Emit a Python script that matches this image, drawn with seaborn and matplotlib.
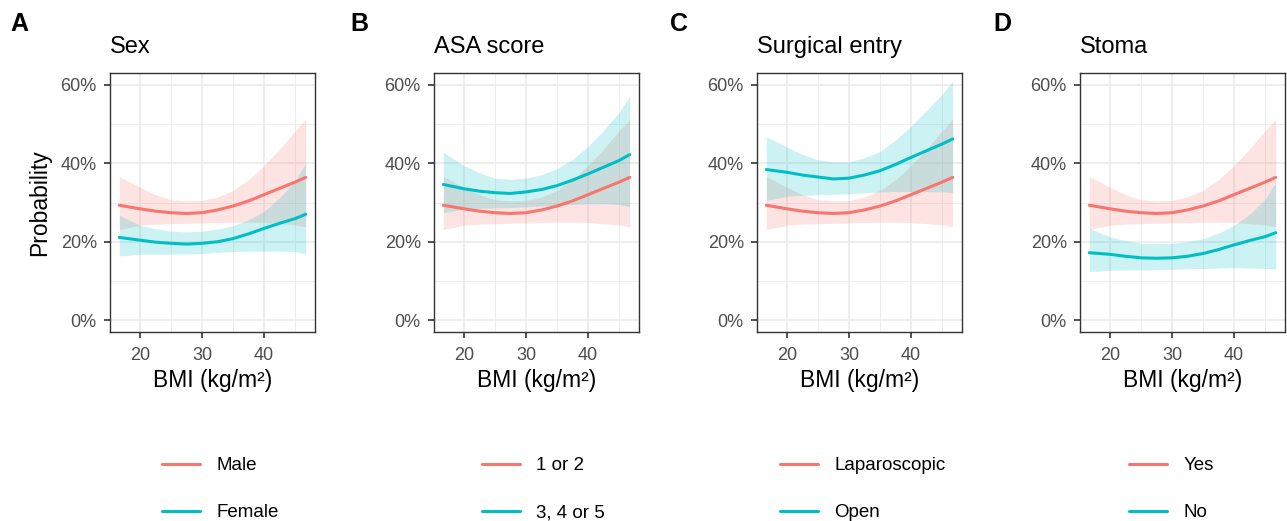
import numpy as np
import pandas as pd
import seaborn as sns
import matplotlib
matplotlib.use("Agg")
from matplotlib import pyplot as plt
from matplotlib.lines import Line2D
from matplotlib.ticker import MultipleLocator, FuncFormatter

bmi = [16.7, 20, 22.5, 25, 27.5, 30, 32.5, 35, 37.5, 40, 42.5, 45, 46.7]

# reference level (same red curve in every panel), probability in %
ref_fit = [29.3, 28.4, 27.8, 27.4, 27.2, 27.4, 28.1, 29.1, 30.4, 32.0, 33.6, 35.2, 36.4]
ref_upper = [36.6, 33.9, 32.0, 30.7, 30.4, 30.5, 31.4, 33.1, 35.8, 39.4, 43.6, 48.3, 51.2]
ref_lower = [23.1, 24.2, 24.5, 24.6, 24.7, 24.8, 24.9, 25.0, 25.0, 24.9, 24.6, 24.3, 23.8]

# comparison level per panel
sex_fit = [21.1, 20.4, 19.9, 19.6, 19.4, 19.6, 20.0, 20.8, 22.0, 23.4, 24.7, 25.9, 27.0]
sex_upper = [26.8, 24.2, 23.3, 22.7, 22.5, 22.7, 23.2, 24.1, 25.6, 27.8, 31.2, 35.5, 40.1]
sex_lower = [16.4, 16.8, 16.8, 16.8, 16.9, 17.0, 17.3, 17.5, 17.6, 17.6, 17.6, 17.5, 17.0]

asa_fit = [34.6, 33.5, 32.9, 32.5, 32.3, 32.7, 33.3, 34.3, 35.7, 37.3, 39.0, 40.7, 42.2]
asa_upper = [42.8, 39.4, 37.6, 36.2, 35.9, 36.2, 37.1, 38.6, 41.0, 44.3, 48.4, 53.0, 57.0]
asa_lower = [27.4, 28.3, 28.5, 28.6, 28.7, 28.9, 29.1, 29.3, 29.5, 29.7, 29.7, 29.5, 28.9]

entry_fit = [38.4, 37.7, 37.0, 36.5, 36.0, 36.2, 37.0, 38.1, 39.7, 41.5, 43.2, 44.9, 46.2]
entry_upper = [46.8, 44.1, 42.3, 40.9, 40.4, 40.4, 41.4, 43.0, 45.9, 49.5, 53.4, 57.6, 60.9]
entry_lower = [30.5, 31.6, 31.8, 32.0, 32.1, 32.2, 32.5, 32.7, 32.8, 32.8, 32.8, 32.7, 32.5]

stoma_fit = [17.2, 16.8, 16.3, 15.9, 15.8, 15.9, 16.3, 17.0, 18.0, 19.2, 20.3, 21.3, 22.3]
stoma_upper = [23.4, 21.3, 20.3, 19.6, 19.5, 19.6, 20.0, 20.8, 22.2, 24.2, 27.0, 30.8, 35.2]
stoma_lower = [12.4, 12.7, 12.8, 12.8, 12.9, 13.0, 13.1, 13.2, 13.3, 13.4, 13.3, 13.2, 13.1]

panel_letters = ["A", "B", "C", "D"]
panel_titles = ["Sex", "ASA score", "Surgical entry", "Stoma"]
ref_labels = ["Male", "1 or 2", "Laparoscopic", "Yes"]
other_labels = ["Female", "3, 4 or 5", "Open", "No"]
others = [(sex_fit, sex_lower, sex_upper), (asa_fit, asa_lower, asa_upper),
          (entry_fit, entry_lower, entry_upper), (stoma_fit, stoma_lower, stoma_upper)]

RED = "#F8766D"
CYAN = "#00BFC4"

sns.set_theme(style="white")
plt.rcParams["font.family"] = ["Liberation Sans", "DejaVu Sans"]
plt.rcParams["text.color"] = "black"
plt.rcParams["axes.labelcolor"] = "black"

W, H = 1287, 521
fig = plt.figure(figsize=(W / 100, H / 100), dpi=100)

ax_left = [110, 434, 757, 1080]
ax_w, ax_top, ax_bot = 205, 73, 332
letter_x = [10, 350, 670, 993]
legend_x = [162, 482, 780, 1129]

rows = []
for i, (fit, lo, hi) in enumerate(others):
    for j, b in enumerate(bmi):
        rows.append([panel_titles[i], ref_labels[i], b, ref_fit[j] / 100, ref_lower[j] / 100, ref_upper[j] / 100])
        rows.append([panel_titles[i], other_labels[i], b, fit[j] / 100, lo[j] / 100, hi[j] / 100])
df = pd.DataFrame(rows, columns=["panel", "group", "bmi", "prob", "lower", "upper"])

for i in range(4):
    ax = fig.add_axes([ax_left[i] / W, 1 - ax_bot / H, ax_w / W, (ax_bot - ax_top) / H])
    sub = df[df["panel"] == panel_titles[i]]
    for grp, col in [(ref_labels[i], RED), (other_labels[i], CYAN)]:
        g = sub[sub["group"] == grp]
        ax.fill_between(g["bmi"], g["lower"], g["upper"], color=col, alpha=0.2, lw=0)
        sns.lineplot(data=g, x="bmi", y="prob", color=col, lw=2.2, ax=ax, legend=False)

    ax.set_xlim(15.2, 48.2)
    ax.set_ylim(-0.03, 0.63)
    ax.xaxis.set_major_locator(MultipleLocator(10))
    ax.xaxis.set_minor_locator(MultipleLocator(5))
    ax.yaxis.set_major_locator(MultipleLocator(0.2))
    ax.yaxis.set_minor_locator(MultipleLocator(0.1))
    ax.yaxis.set_major_formatter(FuncFormatter(lambda v, p: f"{v * 100:.0f}%"))
    ax.grid(True, which="major", color="#EBEBEB", lw=1.2)
    ax.grid(True, which="minor", color="#EBEBEB", lw=0.6)
    ax.set_axisbelow(True)
    for s in ax.spines.values():
        s.set_color("#333333")
        s.set_linewidth(1.0)
    ax.tick_params(which="major", direction="out", length=4.5, width=1.2, color="#333333",
                   labelsize=13, labelcolor="#4D4D4D", bottom=True, left=True)
    ax.tick_params(axis="x", which="major", pad=6)
    ax.tick_params(axis="y", which="major", pad=5)
    ax.tick_params(which="minor", length=0)
    ax.set_xlabel("BMI (kg/m²)", fontsize=16.5, color="black", labelpad=4)
    ax.set_ylabel("Probability" if i == 0 else "", fontsize=16.5, color="black", labelpad=6.5)
    ax.set_title(panel_titles[i], loc="left", fontsize=17, pad=14.5, color="black")

    fig.text(letter_x[i] / W, 1 - 24 / H, panel_letters[i], fontsize=18, fontweight="bold",
             va="center", ha="left", color="black")

    handles = [Line2D([], [], color=RED, lw=2.2), Line2D([], [], color=CYAN, lw=2.2)]
    fig.legend(handles, [ref_labels[i], other_labels[i]], loc="upper left",
               bbox_to_anchor=(legend_x[i] / W, 1 - 457 / H), frameon=False,
               fontsize=13.5, handlelength=2.0, handletextpad=0.9, labelspacing=1.6,
               borderpad=0, borderaxespad=0, labelcolor="black")

fig.savefig("out.png", dpi=100, facecolor="white")
